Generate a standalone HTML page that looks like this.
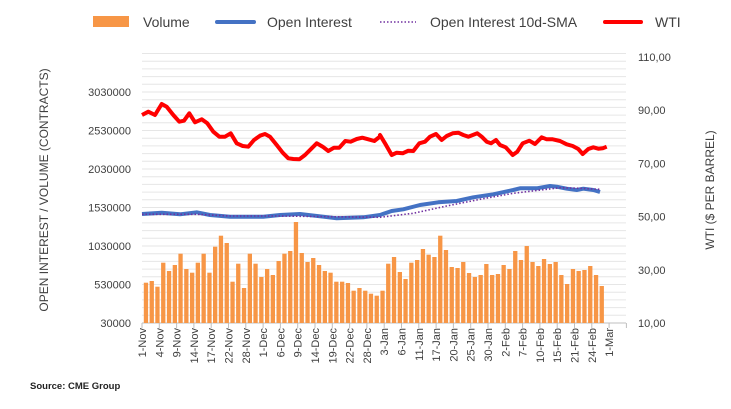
<!DOCTYPE html>
<html><head><meta charset="utf-8"><style>
body{margin:0;background:#fff;}
svg{display:block;font-family:"Liberation Sans",sans-serif;}
</style></head><body>
<svg id="s" width="731" height="409" viewBox="0 0 731 409" xmlns="http://www.w3.org/2000/svg">
<g id="grid"></g>
<g id="bars" fill="#F79646"></g>
<g id="ticks" stroke="#bfbfbf" stroke-width="1"></g>
<polyline id="oi" fill="none" stroke="#4472C4" stroke-width="4" stroke-linejoin="round"/>
<polyline id="sma" fill="none" stroke="#7030A0" stroke-width="1.6" stroke-dasharray="1.5 2"/>
<polyline id="wti" fill="none" stroke="#FF0000" stroke-width="4" stroke-linejoin="round"/>
<g id="lab" font-size="11" fill="#404040"></g>
<g font-size="14" fill="#404040">
<rect x="93" y="16" width="36" height="11" fill="#F79646"/>
<text x="143" y="27">Volume</text>
<line x1="217" y1="22" x2="254" y2="22" stroke="#4472C4" stroke-width="4" stroke-linecap="round"/>
<text x="267" y="27">Open Interest</text>
<line x1="380" y1="22" x2="416" y2="22" stroke="#7030A0" stroke-width="1.6" stroke-dasharray="1.5 2"/>
<text x="430" y="27">Open Interest 10d-SMA</text>
<line x1="605" y1="22" x2="641" y2="22" stroke="#FF0000" stroke-width="4" stroke-linecap="round"/>
<text x="655" y="27">WTI</text>
</g>
<text transform="translate(48,190) rotate(-90)" text-anchor="middle" font-size="12" fill="#404040">OPEN INTEREST / VOLUME (CONTRACTS)</text>
<text transform="translate(714,190) rotate(-90)" text-anchor="middle" font-size="12" fill="#404040">WTI ($ PER BARREL)</text>
<text x="30" y="389" font-size="9.5" font-weight="bold" fill="#222">Source: CME Group</text>
</svg>
<script>
const NS="http://www.w3.org/2000/svg";
function el(p,t,a,txt){const e=document.createElementNS(NS,t);for(const k in a)e.setAttribute(k,a[k]);if(txt!==undefined)e.textContent=txt;document.getElementById(p).appendChild(e);return e;}
const X0=142,X1=626,Y0=323;
// grid
for(let y=Y0-7.7;y>52;y-=7.7){el("grid","line",{x1:X0,x2:X1,y1:y.toFixed(1),y2:y.toFixed(1),stroke:"#e6e6e6","stroke-width":1});}
el("grid","line",{x1:X0,x2:X1,y1:Y0,y2:Y0,stroke:"#bfbfbf","stroke-width":1});
// left labels
const L=["30000","530000","1030000","1530000","2030000","2530000","3030000"];
L.forEach((t,i)=>el("lab","text",{x:131,y:(Y0-i*38.5+4).toFixed(1),"text-anchor":"end"},t));
const R=["10,00","30,00","50,00","70,00","90,00","110,00"];
R.forEach((t,i)=>el("lab","text",{x:638,y:(Y0-i*53.2+4).toFixed(1)},t));
// x labels
const D=["1-Nov","4-Nov","9-Nov","14-Nov","17-Nov","22-Nov","28-Nov","1-Dec","6-Dec","9-Dec","14-Dec","19-Dec","22-Dec","28-Dec","3-Jan","6-Jan","11-Jan","17-Jan","20-Jan","25-Jan","30-Jan","2-Feb","7-Feb","10-Feb","15-Feb","21-Feb","24-Feb","1-Mar"];
const sp=17.3;
D.forEach((t,i)=>{const x=X0+i*sp;el("lab","text",{transform:`translate(${(x+4).toFixed(1)},${Y0+5}) rotate(-90)`,"text-anchor":"end"},t);});
for(let i=0;i<=28;i++){const x=X0+i*sp;el("ticks","line",{x1:x.toFixed(1),x2:x.toFixed(1),y1:Y0,y2:Y0+5});}
// bars (zoom y values)
const bz=[608,603,620,548,573,555,521,567,578,548,521,578,500,467,489,605,551,624,521,551,591,567,585,543,521,513,426,519,546,534,555,573,578,605,605,609,632,624,632,641,647,632,
551,531,576,597,548,540,507,524,531,467,510,561,564,546,579,591,585,552,585,582,555,567,513,540,498,546,558,537,552,546,585,612,567,573,570,558,585,618];
const bw=5.77;
bz.forEach((v,i)=>{const y=80+v/3;el("bars","rect",{x:(X0+1+i*bw+0.8).toFixed(1),y:y.toFixed(1),width:4.3,height:(Y0-y).toFixed(1)});});
function pts(a,off){return a.map(p=>[off+p[0]/3,80+p[1]/3]);}
const w1=[[36,105],[55,95],[75,105],[95,72],[110,80],[130,105],[148,125],[162,122],[178,100],[195,127],[215,118],[232,130],[250,155],[268,170],[285,170],[302,160],[320,190],[338,198],[355,200],[372,180],[390,167],[405,162],[420,170],[440,195],[458,218],[475,235],[490,237],[508,238],[525,225],[542,208],[560,190],[578,200],[595,213],[612,203],[628,203],[646,183],[662,185],[680,177],[697,173],[715,178],[733,183],[752,168]];
const w2=[[0,165],[15,190],[35,225],[50,218],[68,220],[85,212],[100,213],[118,190],[135,185],[150,170],[168,162],[185,180],[200,168],[218,160],[235,158],[250,165],[265,170],[292,160],[305,170],[320,185],[333,190],[348,180],[360,195],[377,202],[398,225],[412,215],[428,190],[448,182],[465,192],[485,172],[500,178],[518,178],[540,183],[560,193],[578,198],[595,207],[608,222],[625,207],[640,202],[655,206],[668,205],[680,200]];
const o1=[[36,402],[95,398],[150,403],[200,397],[240,405],[300,410],[400,410],[450,405],[510,402],[580,410],[620,415],[700,412],[750,405]];
const o2=[[0,405],[35,393],[70,388],[120,375],[175,367],[230,363],[280,352],[340,343],[400,330],[420,325],[470,325],[510,318],[530,320],[560,326],[590,330],[610,326],[640,330],[660,336]];
const s1=[[36,403],[200,403],[300,408],[450,408],[600,410],[750,412]];
const s2=[[0,412],[100,400],[200,378],[300,358],[400,340],[500,328],[540,323],[600,325],[660,328]];
const f=a=>a.map(p=>p[0].toFixed(1)+","+p[1].toFixed(1)).join(" ");
document.getElementById("wti").setAttribute("points",f(pts(w1,130).concat(pts(w2,380))));
document.getElementById("oi").setAttribute("points",f(pts(o1,130).concat(pts(o2,380))));
document.getElementById("sma").setAttribute("points",f(pts(s1,130).concat(pts(s2,380))));
</script>
</body></html>
